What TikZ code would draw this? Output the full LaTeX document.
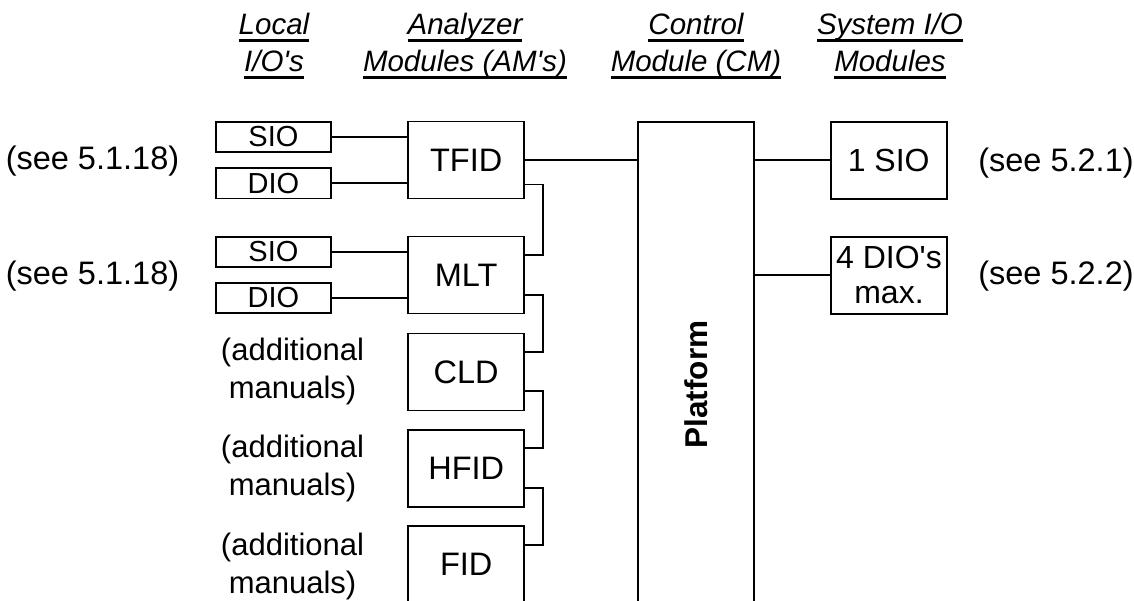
\documentclass[tikz,border=0pt]{standalone}
\usepackage{fontspec}
\setmainfont{Liberation Sans}[Ligatures=TeXOff]
\usetikzlibrary{calc}
\newcommand\hul[1]{\setbox0=\hbox{#1}\rlap{\copy0}\rule[-7pt]{\wd0}{2.8pt}}
\tikzset{
  txt/.style={font=\fontsize{31}{38}\selectfont, inner sep=0pt, align=center},
  seetxt/.style={font=\fontsize{32.5}{38}\selectfont, inner sep=0pt},
  hdr/.style={font=\fontsize{29.5}{37}\selectfont\itshape, inner sep=0pt, anchor=base},
  box/.style={draw, line width=1.8pt, inner sep=0pt, font=\fontsize{32}{36}\selectfont, align=center},
  iobox/.style={box, minimum width=115.3pt, minimum height=30.6pt, font=\fontsize{29}{32}\selectfont},
  ambox/.style={box, minimum width=115.7pt, minimum height=77pt, font=\fontsize{32.5}{36}\selectfont},
  wire/.style={line width=1.8pt}
}
\begin{document}
\begin{tikzpicture}[x=1pt,y=-1pt]
\useasboundingbox (0,0) rectangle (1134,601);
\clip (0,0) rectangle (1134,601);
% headers
\node[hdr] (h1a) at (274,35) {\hul{Local}};
\node[hdr] (h1b) at (274,72) {\hul{I/O's}};
\node[hdr] (h2a) at (465,35) {\hul{Analyzer}};
\node[hdr] (h2b) at (465,72) {\hul{Modules (AM's)}};
\node[hdr] (h3a) at (696,35) {\hul{Control}};
\node[hdr] (h3b) at (696,72) {\hul{Module (CM)}};
\node[hdr] (h4a) at (890,35) {\hul{System I/O}};
\node[hdr] (h4b) at (890,72) {\hul{Modules}};
% local IO
\node[iobox] (sio1) at (273.4,137) {SIO};
\node[iobox] (dio1) at (273.4,183.3) {DIO};
\node[iobox] (sio2) at (273.4,252) {SIO};
\node[iobox] (dio2) at (273.4,298) {DIO};
% analyzer modules
\node[ambox] (tfid) at (466.2,160) {TFID};
\node[ambox] (mlt) at (466.2,275) {MLT};
\node[ambox] (cld) at (466.2,372) {CLD};
\node[ambox] (hfid) at (466.2,468.3) {HFID};
\node[ambox] (fid) at (466.2,564.5) {FID};
% platform
\node[box, minimum width=116pt, minimum height=525.6pt] (plat) at (696.3,384.5) {};
\node[font=\fontsize{31.5}{36}\selectfont\bfseries, rotate=90, inner sep=0pt] (plattxt) at (plat.center) {Platform};
% system IO
\node[box, minimum width=116pt, minimum height=77.3pt] (sys1) at (888.7,160.4) {1 SIO};
\node[box, minimum width=116.6pt, minimum height=77.3pt, font=\fontsize{32}{35}\selectfont] (sys2) at (889,275.4) {4 DIO's\\max.};
% labels
\node[seetxt] (see1) at (92.5,161) {(see 5.1.18)};
\node[seetxt] (see2) at (92.5,276) {(see 5.1.18)};
\node[seetxt] (see3) at (1056,163) {(see 5.2.1)};
\node[seetxt] (see4) at (1056,276) {(see 5.2.2)};
\node[txt] (add1) at (292.5,371) {(additional\\manuals)};
\node[txt] (add2) at (292.5,468) {(additional\\manuals)};
\node[txt] (add3) at (292.5,566) {(additional\\manuals)};
% wires local IO
\draw[wire] (sio1.east) -- (sio1.east -| tfid.west);
\draw[wire] (dio1.east) -- (dio1.east -| tfid.west);
\draw[wire] (sio2.east) -- (sio2.east -| mlt.west);
\draw[wire] (dio2.east) -- (dio2.east -| mlt.west);
% wires to platform
\draw[wire] (tfid.east) -- (tfid.east -| plat.west);
\draw[wire] (sys1.west -| plat.east) -- (sys1.west);
\draw[wire] (sys2.west -| plat.east) -- (sys2.west);
% daisy chain
\coordinate (bus) at (543.3,0);
\coordinate (tfidout) at ($(tfid.south east)!0.19!(tfid.north east)$);
\coordinate (mltin) at ($(mlt.north east)!0.25!(mlt.south east)$);
\coordinate (mltout) at ($(mlt.south east)!0.25!(mlt.north east)$);
\coordinate (cldin) at ($(cld.north east)!0.25!(cld.south east)$);
\coordinate (cldout) at ($(cld.south east)!0.26!(cld.north east)$);
\coordinate (hfidin) at ($(hfid.north east)!0.24!(hfid.south east)$);
\coordinate (hfidout) at ($(hfid.south east)!0.25!(hfid.north east)$);
\coordinate (fidin) at ($(fid.north east)!0.25!(fid.south east)$);
\draw[wire] (tfidout) -- (tfidout -| bus) -- (mltin -| bus) -- (mltin);
\draw[wire] (mltout) -- (mltout -| bus) -- (cldin -| bus) -- (cldin);
\draw[wire] (cldout) -- (cldout -| bus) -- (hfidin -| bus) -- (hfidin);
\draw[wire] (hfidout) -- (hfidout -| bus) -- (fidin -| bus) -- (fidin);
\end{tikzpicture}
\end{document}
